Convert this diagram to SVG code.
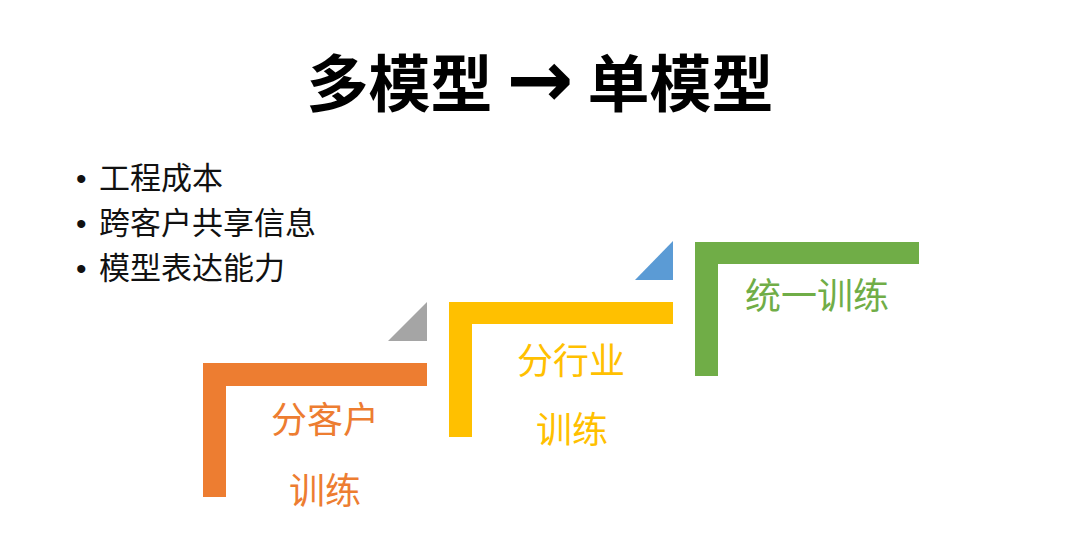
<svg xmlns="http://www.w3.org/2000/svg" width="1080" height="559" viewBox="0 0 1080 559">
<style>
.cjk{font-family:"Noto Sans CJK SC","Noto Sans",sans-serif}
.title{font-size:62px;font-weight:bold;fill:#000}
.arr{font-family:"DejaVu Sans",sans-serif;font-weight:bold;font-size:80px}
.bul{font-size:31px;fill:#111}
.dot{font-family:"Liberation Sans",sans-serif;font-size:30px;fill:#111}
.lbl{font-size:36px;text-anchor:middle}
</style>
<rect width="1080" height="559" fill="#fff"/>
<g id="title"><text class="cjk title" x="540" y="107" text-anchor="middle">多模型 <tspan class="arr">→</tspan> 单模型</text></g>
<g id="bullets">
<text class="dot" x="76" y="189">•</text>
<text class="dot" x="76" y="234">•</text>
<text class="dot" x="76" y="279">•</text>
<text class="cjk bul" x="99" y="189">工程成本</text>
<text class="cjk bul" x="99" y="234">跨客户共享信息</text>
<text class="cjk bul" x="99" y="279">模型表达能力</text>
</g>
<g id="step1">
<path d="M203 363H427V386H226V497H203Z" fill="#ED7D31"/>
<polygon points="388,341 427,341 427,302" fill="#A5A5A5"/>
<text class="cjk lbl" x="325" y="433" fill="#ED7D31">分客户</text>
<text class="cjk lbl" x="325" y="504" fill="#ED7D31">训练</text>
</g>
<g id="step2">
<path d="M449 302H673V324H472V437H449Z" fill="#FFC000"/>
<polygon points="635,280 673,280 673,241" fill="#5B9BD5"/>
<text class="cjk lbl" x="571" y="374" fill="#FFC000">分行业</text>
<text class="cjk lbl" x="572" y="443" fill="#FFC000">训练</text>
</g>
<g id="step3">
<path d="M695 242H919V264H718V376H695Z" fill="#70AD47"/>
<text class="cjk lbl" x="817" y="309" fill="#70AD47">统一训练</text>
</g>
<g id="connectors"/>
</svg>
